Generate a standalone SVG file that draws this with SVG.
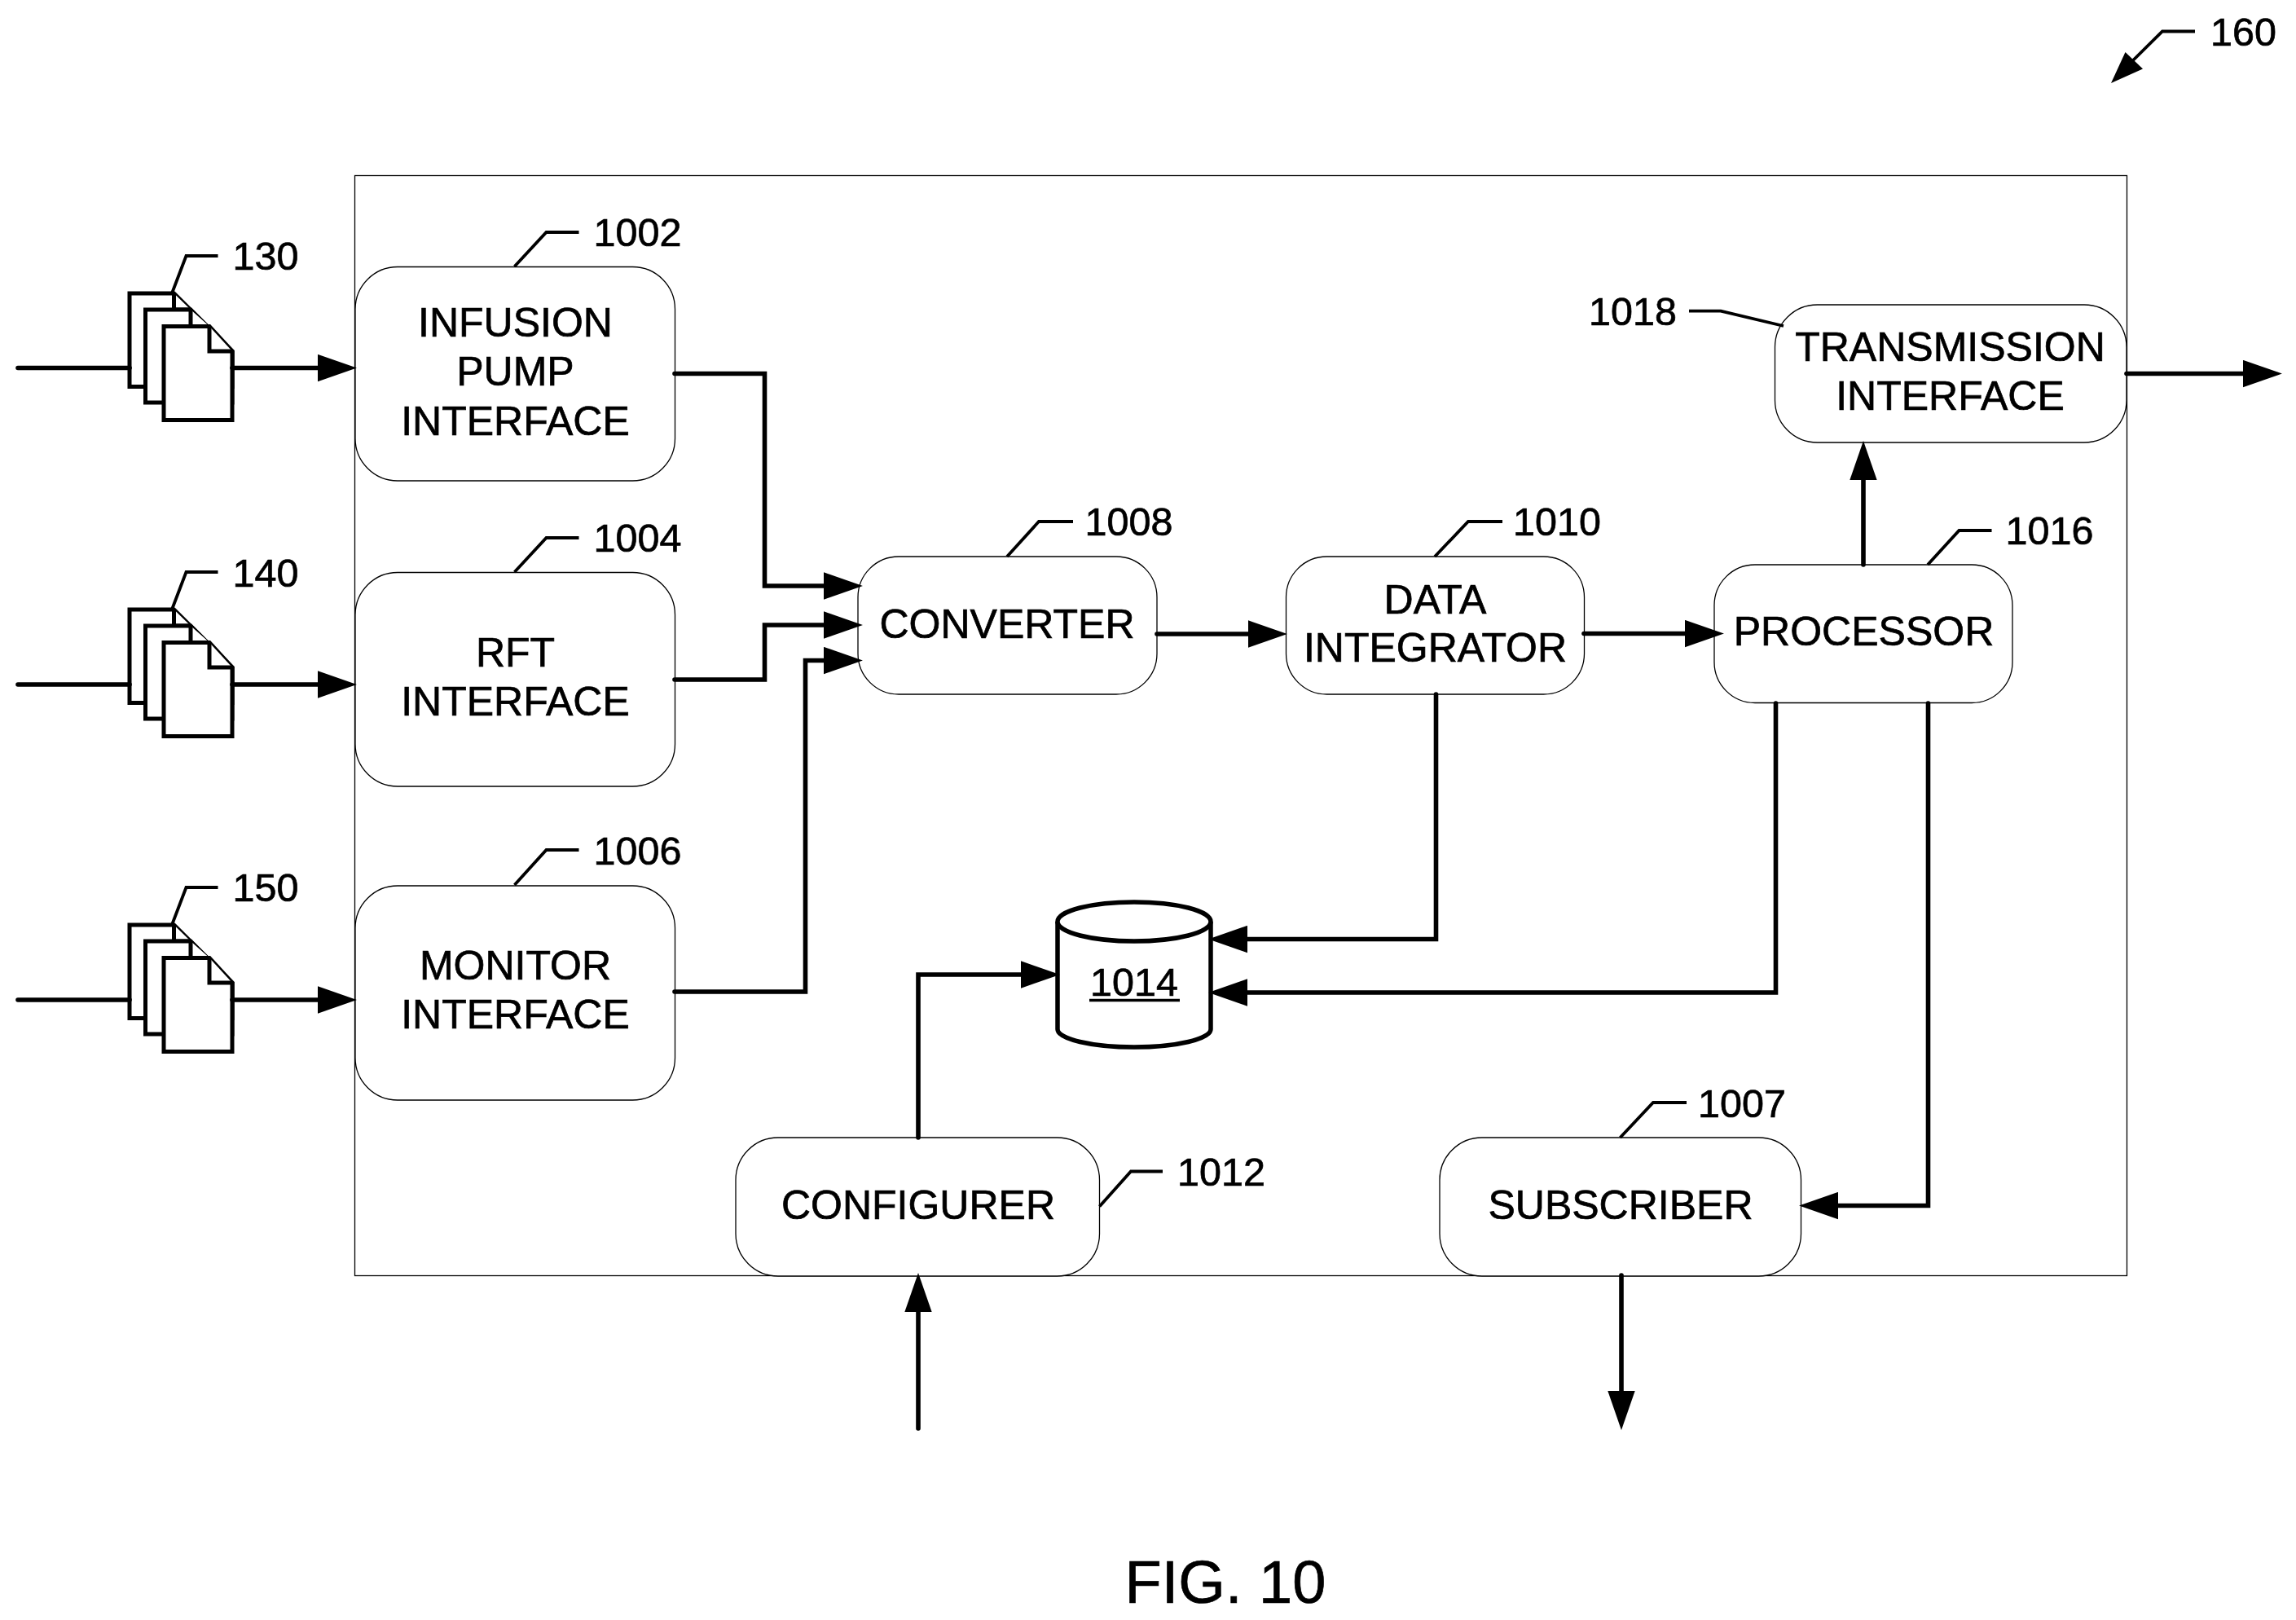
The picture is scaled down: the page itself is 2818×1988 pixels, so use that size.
<svg xmlns="http://www.w3.org/2000/svg" width="2818" height="1988" viewBox="0 0 2818 1988">
<style>
text{font-family:"Liberation Sans",Arial,sans-serif;fill:#000;stroke:#000;stroke-width:.7}
.t{font-size:50px;text-anchor:middle}
.n{font-size:48.5px}
.box{fill:#fff;stroke:#000;stroke-width:1.3}
.ld{fill:none;stroke:#000;stroke-width:3.8}
.c{fill:none;stroke:#000;stroke-width:5.6;stroke-linecap:round;stroke-linejoin:miter}
.ca{marker-end:url(#ah)}
.pg{fill:#fff;stroke:#000;stroke-width:5;stroke-linejoin:miter}
</style>
<defs>
<marker id="ah" markerUnits="userSpaceOnUse" markerWidth="48" markerHeight="34" viewBox="0 0 46 32" refX="2" refY="16" orient="auto"><path d="M0 0L46 16L0 32Z" fill="#000"/></marker>
<g id="docs">
<path class="pg" d="M159 360H213.5L285 431V474.5H159Z"/>
<path class="pg" d="M213.5 360V380H234"/>
<path class="pg" d="M178.5 380H234L285 431V494H178.5Z"/>
<path class="pg" d="M234 380V400.5H257"/>
<path class="pg" d="M201 400.5H257L285 431V515.5H201Z"/>
<path class="pg" d="M257 400.5V431H285"/>
</g>
</defs>
<rect width="2818" height="1988" fill="#fff"/>
<rect id="container" x="435.5" y="215.5" width="2175" height="1350" fill="#fff" stroke="#000" stroke-width="1.3"/>

<g id="doc-130"><use href="#docs"/><path class="ld" d="M211 360L228.5 314H267.5"/><text class="n" x="285.5" y="331">130</text></g>
<g id="doc-140"><use href="#docs" y="388"/><path class="ld" d="M211 748L228.5 702H267.5"/><text class="n" x="285.5" y="720">140</text></g>
<g id="doc-150"><use href="#docs" y="775"/><path class="ld" d="M211 1135L228.5 1089H267.5"/><text class="n" x="285.5" y="1106">150</text></g>

<g id="node-1002"><rect class="box" x="436" y="327.5" width="392.5" height="262.5" rx="52"/><path class="ld" d="M631.5 327L670.5 285H710.5"/><text class="n" x="728.5" y="302">1002</text><text class="t" x="632.5" y="413">INFUSION</text><text class="t" x="632.5" y="473">PUMP</text><text class="t" x="632.5" y="533.5">INTERFACE</text></g>
<g id="node-1004"><rect class="box" x="436" y="702.5" width="392.5" height="262.5" rx="52"/><path class="ld" d="M631.5 702L670.5 660H710.5"/><text class="n" x="728.5" y="677">1004</text><text class="t" x="632.5" y="818">RFT</text><text class="t" x="632.5" y="878">INTERFACE</text></g>
<g id="node-1006"><rect class="box" x="436" y="1087" width="392.5" height="263" rx="52"/><path class="ld" d="M631.5 1086L670.5 1043H710.5"/><text class="n" x="728.5" y="1061">1006</text><text class="t" x="632.5" y="1202">MONITOR</text><text class="t" x="632.5" y="1261.5">INTERFACE</text></g>
<g id="node-1008"><rect class="box" x="1053" y="683" width="367" height="169" rx="50"/><path class="ld" d="M1236 683L1275 640H1317"/><text class="n" x="1331.5" y="657">1008</text><text class="t" x="1236" y="783">CONVERTER</text></g>
<g id="node-1010"><rect class="box" x="1578.5" y="683" width="366" height="169" rx="50"/><path class="ld" d="M1761 683L1802 640H1844"/><text class="n" x="1857" y="657">1010</text><text class="t" x="1761.5" y="752.5">DATA</text><text class="t" x="1761.5" y="812">INTEGRATOR</text></g>
<g id="node-1016"><rect class="box" x="2104" y="693" width="366" height="169.5" rx="50"/><path class="ld" d="M2366 693L2404.5 651H2444.5"/><text class="n" x="2461.5" y="667.5">1016</text><text class="t" x="2287.5" y="792">PROCESSOR</text></g>
<g id="node-1018"><rect class="box" x="2178.5" y="374" width="431.5" height="169" rx="52"/><path class="ld" d="M2073 381.7H2112L2189 400"/><text class="n" x="1950" y="399">1018</text><text class="t" x="2393.5" y="443">TRANSMISSION</text><text class="t" x="2393.5" y="502.5">INTERFACE</text></g>
<g id="node-1014"><path fill="#fff" stroke="#000" stroke-width="5.5" d="M1298 1131V1263C1298 1275 1340 1285 1392 1285C1444 1285 1486 1275 1486 1263V1131"/><ellipse cx="1392" cy="1131" rx="94" ry="24" fill="#fff" stroke="#000" stroke-width="5.5"/><text class="n" x="1392" y="1222" text-anchor="middle">1014</text><path d="M1337 1227.5H1448" stroke="#000" stroke-width="3.5" fill="none"/></g>
<g id="node-1012"><rect class="box" x="903" y="1396" width="446.5" height="170" rx="52"/><path class="ld" d="M1349.5 1480.5L1388 1437.5H1427"/><text class="n" x="1445" y="1454.5">1012</text><text class="t" x="1127" y="1496">CONFIGURER</text></g>
<g id="node-1007"><rect class="box" x="1767" y="1396" width="443.5" height="170" rx="52"/><path class="ld" d="M1988.5 1396L2029 1353H2070"/><text class="n" x="2084" y="1370.5">1007</text><text class="t" x="1989" y="1496">SUBSCRIBER</text></g>

<g id="ref-160"><path class="ld" d="M2694 38.5H2654L2612 80"/><path d="M2591 102L2608.5 64L2630 84.4Z" fill="#000"/><text class="n" x="2713" y="56">160</text></g>
<text id="fig" x="1504" y="1967" font-size="74" text-anchor="middle">FIG. 10</text>

<g id="connectors">
<path class="c" d="M22 451.5H159"/><path class="c ca" d="M285 451.5H392"/>
<path class="c" d="M22 840H159"/><path class="c ca" d="M285 840H392"/>
<path class="c" d="M22 1227H159"/><path class="c ca" d="M285 1227H392"/>
<path class="c ca" d="M828 458.5H938.5V719H1013"/>
<path class="c ca" d="M828 834H938.5V767H1013"/>
<path class="c ca" d="M828 1217H988.5V810.5H1013"/>
<path class="c ca" d="M1420 778H1534"/>
<path class="c ca" d="M1944 777.5H2070"/>
<path class="c ca" d="M2287 693V587"/>
<path class="c ca" d="M2610 458.5H2755"/>
<path class="c ca" d="M1762.5 852V1152.5H1529"/>
<path class="c ca" d="M2179.5 863V1218H1529"/>
<path class="c ca" d="M2366.5 863V1479.5H2254"/>
<path class="c ca" d="M1127 1396V1196H1255"/>
<path class="c ca" d="M1127 1753V1608"/>
<path class="c ca" d="M1990 1565V1709"/>
</g>
</svg>
